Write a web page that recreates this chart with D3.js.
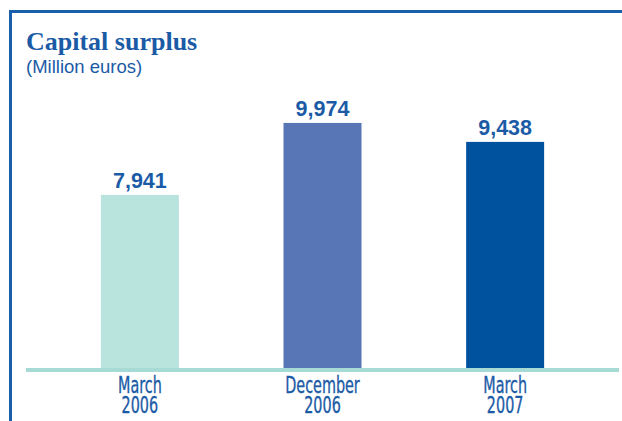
<!DOCTYPE html>
<html>
<head>
<meta charset="utf-8">
<script src="https://cdn.jsdelivr.net/npm/d3@7"></script>
<style>
  body { margin: 0; background: #fff; }
  svg { display: block; }
</style>
</head>
<body>
<script>
// data
var periods = [["March", "2006"], ["December", "2006"], ["March", "2007"]];
var values = [7941, 9974, 9438];
var barColors = ["#b9e3dd", "#5876b5", "#00529f"];

var W = 622, H = 421;
var blue = "#1b5ba6";

var svg = d3.select("body").append("svg")
    .attr("width", W).attr("height", H);

// frame (top + left rules)
svg.append("path")
    .attr("d", "M10.5,421 V11.5 H622")
    .attr("fill", "none")
    .attr("stroke", "#1a5fab")
    .attr("stroke-width", 3);

// title
svg.append("text")
    .attr("x", 26).attr("y", 50)
    .attr("font-family", "'Liberation Serif', 'DejaVu Serif', serif")
    .attr("font-weight", "bold")
    .attr("font-size", 26)
    .attr("fill", blue)
    .text("Capital surplus");

svg.append("text")
    .attr("x", 26).attr("y", 73)
    .attr("font-family", "'Liberation Sans', Arial, sans-serif")
    .attr("font-size", 18.5)
    .attr("fill", blue)
    .text("(Million euros)");

var x = d3.scaleBand()
    .domain(d3.range(values.length))
    .range([26, 619])
    .paddingInner(0.573)
    .paddingOuter(0.41);

// axis baseline does not start at zero in the original
var y = d3.scaleLinear()
    .domain([3050, 10000])
    .range([368, 122]);

var g = svg.append("g");

g.selectAll("rect.bar")
    .data(values)
    .enter().append("rect")
    .attr("class", "bar")
    .attr("x", function(d, i) { return x(i); })
    .attr("y", function(d) { return y(d); })
    .attr("width", x.bandwidth())
    .attr("height", function(d) { return y.range()[0] - y(d); })
    .attr("fill", function(d, i) { return barColors[i]; });

g.selectAll("text.val")
    .data(values)
    .enter().append("text")
    .attr("class", "val")
    .attr("x", function(d, i) { return x(i) + x.bandwidth() / 2; })
    .attr("y", function(d) { return y(d) - 7; })
    .attr("text-anchor", "middle")
    .attr("font-family", "'Liberation Sans', Arial, sans-serif")
    .attr("font-weight", "bold")
    .attr("font-size", 21.5)
    .attr("fill", blue)
    .text(function(d) { return d3.format(",")(d); });

// baseline
svg.append("line")
    .attr("x1", x.range()[0]).attr("x2", x.range()[1])
    .attr("y1", 370).attr("y2", 370)
    .attr("stroke", "#a6dad5")
    .attr("stroke-width", 4);

// category labels, condensed
var cat = svg.selectAll("g.cat")
    .data(periods)
    .enter().append("g")
    .attr("class", "cat")
    .attr("transform", function(d, i) {
        return "translate(" + (x(i) + x.bandwidth() / 2) + ",0) scale(0.68,1)";
    });

cat.selectAll("text")
    .data(function(d) { return d; })
    .enter().append("text")
    .attr("x", 0)
    .attr("y", function(d, j) { return 393 + j * 20.5; })
    .attr("text-anchor", "middle")
    .attr("font-family", "'DejaVu Sans Condensed', 'DejaVu Sans', sans-serif")
    .attr("font-stretch", "condensed")
    .attr("font-size", 23.5)
    .attr("fill", blue)
    .attr("stroke", blue)
    .attr("stroke-width", 0.35)
    .text(function(d) { return d; });
</script>
</body>
</html>
